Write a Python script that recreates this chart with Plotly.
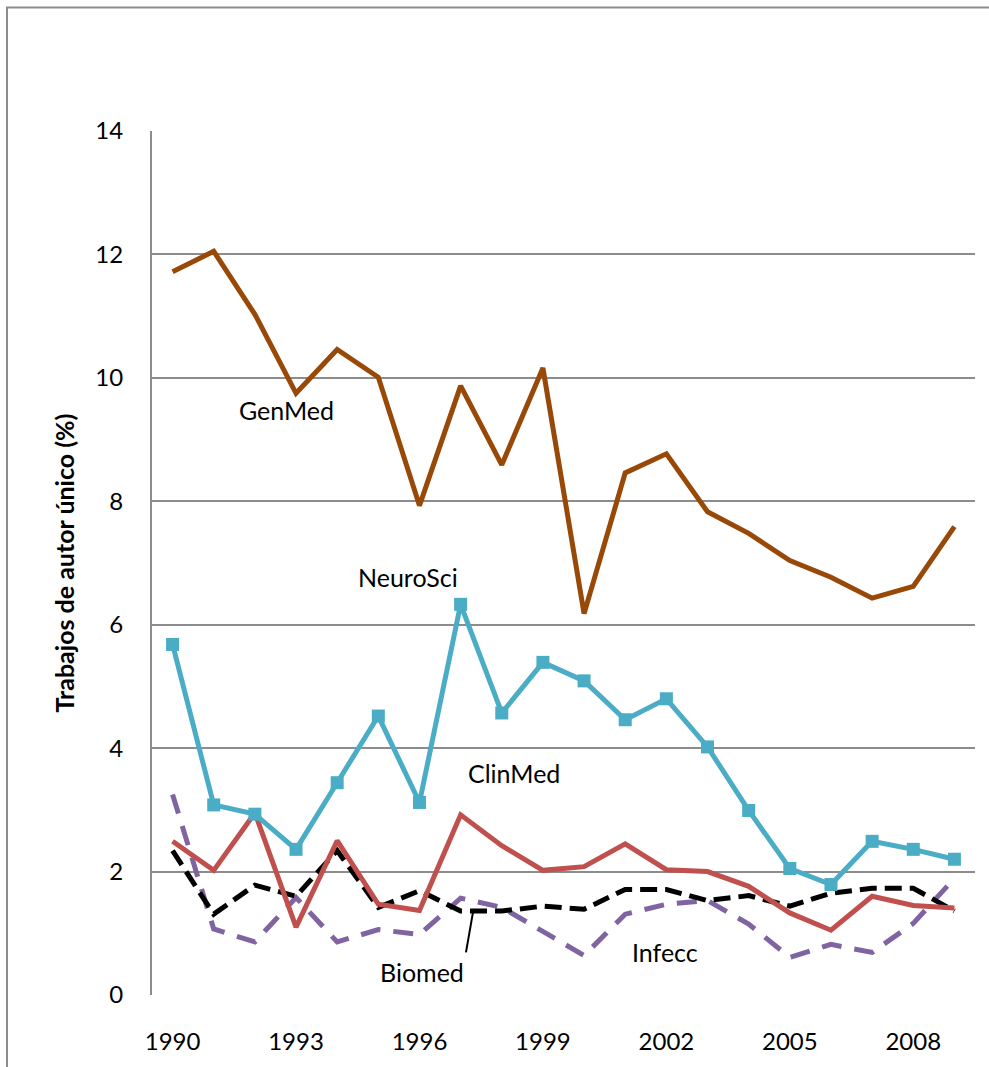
import plotly.graph_objects as go

# Share of single-author papers by field, 1990-2009
years = list(range(1990, 2010))

genmed = [11.72, 12.05, 11.03, 9.75, 10.46, 10.01, 7.93, 9.87, 8.59, 10.16,
          6.18, 8.46, 8.77, 7.83, 7.48, 7.04, 6.77, 6.43, 6.62, 7.59]
neurosci = [5.68, 3.08, 2.93, 2.36, 3.44, 4.52, 3.12, 6.33, 4.57, 5.39,
            5.09, 4.46, 4.80, 4.02, 2.99, 2.05, 1.79, 2.49, 2.36, 2.20]
clinmed = [2.49, 2.02, 2.95, 1.10, 2.50, 1.47, 1.37, 2.92, 2.42, 2.02,
           2.08, 2.45, 2.03, 2.00, 1.76, 1.33, 1.05, 1.60, 1.45, 1.41]
biomed = [2.34, 1.31, 1.78, 1.60, 2.34, 1.42, 1.69, 1.36, 1.36, 1.44,
          1.39, 1.71, 1.71, 1.53, 1.61, 1.44, 1.65, 1.73, 1.73, 1.36]
infecc = [3.25, 1.07, 0.86, 1.58, 0.86, 1.06, 0.98, 1.57, 1.42, 1.02,
          0.64, 1.31, 1.47, 1.53, 1.15, 0.61, 0.82, 0.69, 1.16, 1.89]

x_ticks = [1990, 1993, 1996, 1999, 2002, 2005, 2008]
y_ticks = [0, 2, 4, 6, 8, 10, 12, 14]

W, H = 989, 1067
L, R, T, B = 152, 14, 131, 69
PW, PH = W - L - R, H - T - B

FONT = "Lato"
GRID = "#8c8c8c"
LW = 5

fig = go.Figure()

series = [
    ("Infecc", infecc, dict(color="#8064A2", width=LW, dash="20px,13px"), None),
    ("Biomed", biomed, dict(color="#000000", width=LW, dash="17px,8px"), None),
    ("ClinMed", clinmed, dict(color="#C0504D", width=LW), None),
    ("NeuroSci", neurosci, dict(color="#4BACC6", width=LW),
     dict(symbol="square", size=13, color="#4BACC6")),
    ("GenMed", genmed, dict(color="#984807", width=LW), None),
]
for name, vals, line, marker in series:
    fig.add_trace(go.Scatter(
        x=years, y=vals, name=name,
        mode="lines+markers" if marker else "lines",
        line=line, marker=marker, hoverinfo="skip",
    ))

# in-plot series labels
labels = [
    ("GenMed", 1992.76, 9.48),
    ("NeuroSci", 1995.72, 6.77),
    ("ClinMed", 1998.3, 3.6),
    ("Infecc", 2001.97, 0.69),
    ("Biomed", 1996.06, 0.37),
]
for text, lx, ly in labels:
    fig.add_annotation(x=lx, y=ly, text=text, showarrow=False,
                       font=dict(family=FONT, size=25, color="#000000"))

# leader line for the Biomed label
fig.add_shape(type="line", x0=1997.3, y0=1.34, x1=1997.13, y1=0.69,
              line=dict(color="#000000", width=2))

# outer chart frame
def px_x(p):
    return (p - L) / PW

def px_y(p):
    return (H - B - p) / PH

fig.add_shape(type="rect", xref="paper", yref="paper",
              x0=px_x(7), x1=px_x(1000), y0=px_y(1080), y1=px_y(7),
              line=dict(color="#8c8c8c", width=2), layer="below")

fig.update_layout(
    width=W, height=H,
    margin=dict(l=L, r=R, t=T, b=B, pad=0),
    paper_bgcolor="white", plot_bgcolor="white",
    showlegend=False,
    font=dict(family=FONT, color="#000000"),
    xaxis=dict(
        range=[1989.5, 2009.5], tickmode="array", tickvals=x_ticks,
        ticktext=[str(v) for v in x_ticks], showgrid=False, zeroline=False,
        showline=False, ticks="", ticklabelstandoff=30,
        tickfont=dict(family=FONT, size=24, color="#000000"),
    ),
    yaxis=dict(
        range=[0, 14], tickmode="array", tickvals=y_ticks,
        showgrid=True, gridcolor=GRID, gridwidth=2, zeroline=False,
        showline=True, linecolor=GRID, linewidth=2, ticks="",
        ticklabelstandoff=22,
        tickfont=dict(family=FONT, size=24, color="#000000"),
        title=dict(text="<b>Trabajos de autor único (%)</b>", standoff=14,
                   font=dict(family=FONT, size=25, color="#000000")),
    ),
)

fig.write_html("out.html")
